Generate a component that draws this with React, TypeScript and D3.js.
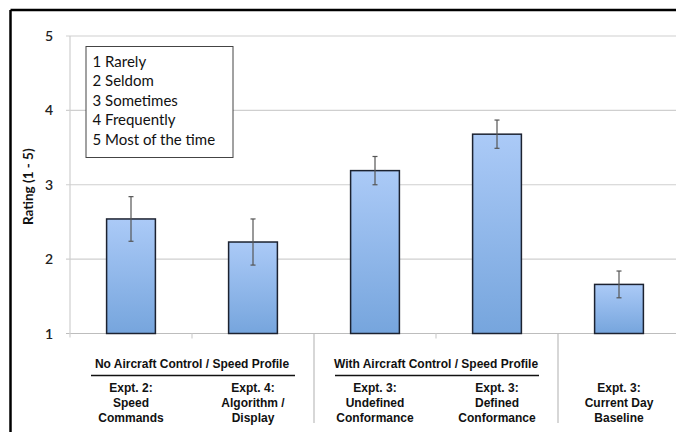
import React from "react";
import * as d3 from "d3";

const categories = ["c1", "c2", "c3", "c4", "c5"];
const categoryLabels = [
  ["Expt. 2:", "Speed", "Commands"],
  ["Expt. 4:", "Algorithm /", "Display"],
  ["Expt. 3:", "Undefined", "Conformance"],
  ["Expt. 3:", "Defined", "Conformance"],
  ["Expt. 3:", "Current Day", "Baseline"],
];
const values = [2.54, 2.23, 3.19, 3.68, 1.66];
const errors = [0.3, 0.31, 0.19, 0.19, 0.18];
const yTicks = [1, 2, 3, 4, 5];
const legendLines = ["1 Rarely", "2 Seldom", "3 Sometimes", "4 Frequently", "5 Most of the time"];
const groups = [
  { label: "No Aircraft Control / Speed Profile", from: 0, to: 1 },
  { label: "With Aircraft Control / Speed Profile", from: 2, to: 3 },
];
const separatorsAfter = [1, 3];
const minorTicksAfter = [0, 2];

export default function App() {
  const W = 676, H = 432;
  const left = 70, top = 36, bottom = 333.5;
  const step = 122;
  const x = d3.scaleBand().domain(categories).range([left, left + step * categories.length]).paddingInner(0.6).paddingOuter(0.3);
  const y = d3.scaleLinear().domain([1, 5]).range([bottom, top]);
  const bw = x.bandwidth();
  const cx = (i: number) => (x(categories[i]) as number) + bw / 2;
  const boundary = (i: number) => left + step * (i + 1);
  const calibri = "Lato, 'Open Sans', sans-serif";
  const arial = "'Liberation Sans', Arial, sans-serif";

  return (
    <svg width={W} height={H} style={{ position: "absolute", left: 0, top: 0, background: "#fff" }}>
      <defs>
        <linearGradient id="barGrad" x1="0" y1="0" x2="0" y2="1">
          <stop offset="0%" stopColor="#abcaf7" />
          <stop offset="100%" stopColor="#76a5dd" />
        </linearGradient>
      </defs>
      <rect x={0} y={0} width={W} height={H} fill="#fff" />
      {/* frame */}
      <line x1={10.5} y1={10} x2={676} y2={10} stroke="#000" strokeWidth={2.5} />
      <line x1={10.5} y1={10} x2={10.5} y2={432} stroke="#000" strokeWidth={2.5} />

      {/* gridlines & ticks */}
      {yTicks.map((t) => (
        <g key={t}>
          <line x1={66} x2={676} y1={y(t)} y2={y(t)} stroke={t === 1 ? "#bdbdbd" : "#cfcfcf"} strokeWidth={1.2} />
          <text x={49} y={y(t) + 5} textAnchor="middle" fontFamily={calibri} fontSize={14} fontWeight={600} fill="#222">
            {t}
          </text>
        </g>
      ))}
      <line x1={left} x2={left} y1={top} y2={bottom + 4} stroke="#cfcfcf" strokeWidth={1.2} />
      {minorTicksAfter.map((i) => (
        <line key={i} x1={boundary(i)} x2={boundary(i)} y1={bottom} y2={bottom + 5} stroke="#cfcfcf" strokeWidth={1.2} />
      ))}
      {separatorsAfter.map((i) => (
        <line key={i} x1={boundary(i)} x2={boundary(i)} y1={bottom} y2={423} stroke="#bdbdbd" strokeWidth={1.2} />
      ))}

      {/* y title */}
      <text
        transform={`translate(33,${(top + bottom) / 2 + 2}) rotate(-90)`}
        textAnchor="middle"
        fontFamily={calibri}
        fontSize={13.5}
        fontWeight={700}
        fill="#111"
      >
        Rating (1 - 5)
      </text>

      {/* bars */}
      {values.map((v, i) => (
        <g key={i}>
          <rect x={x(categories[i])} y={y(v)} width={bw} height={y(1) - y(v)} fill="url(#barGrad)" stroke="#1c2230" strokeWidth={1.5} />
          <line x1={cx(i)} x2={cx(i)} y1={y(v + errors[i])} y2={y(v - errors[i])} stroke="#555" strokeWidth={1.2} />
          <line x1={cx(i) - 2.5} x2={cx(i) + 2.5} y1={y(v + errors[i])} y2={y(v + errors[i])} stroke="#555" strokeWidth={1.2} />
          <line x1={cx(i) - 2.5} x2={cx(i) + 2.5} y1={y(v - errors[i])} y2={y(v - errors[i])} stroke="#555" strokeWidth={1.2} />
        </g>
      ))}

      {/* legend box */}
      <rect x={86} y={46.5} width={147} height={111} fill="#fff" stroke="#444" strokeWidth={1} />
      {legendLines.map((l, i) => (
        <text key={l} x={92.5} y={67 + i * 19.4} fontFamily={calibri} fontSize={15} fill="#111">
          {l}
        </text>
      ))}

      {/* group labels */}
      {groups.map((g) => {
        const c = (boundary(g.from - 1) + boundary(g.to)) / 2;
        const x1 = cx(g.from) - 40;
        const x2 = cx(g.to) + 42;
        return (
          <g key={g.label}>
            <text x={c} y={367.5} textAnchor="middle" fontFamily={arial} fontSize={12} fontWeight={700} fill="#111">
              {g.label}
            </text>
            <line x1={x1} x2={x2} y1={375.5} y2={375.5} stroke="#111" strokeWidth={1.5} />
          </g>
        );
      })}

      {/* category labels */}
      {categoryLabels.map((lines, i) => (
        <text key={i} textAnchor="middle" fontFamily={arial} fontSize={12} fontWeight={700} fill="#111">
          {lines.map((ln, j) => (
            <tspan key={j} x={cx(i)} y={392 + j * 15}>
              {ln}
            </tspan>
          ))}
        </text>
      ))}
    </svg>
  );
}
